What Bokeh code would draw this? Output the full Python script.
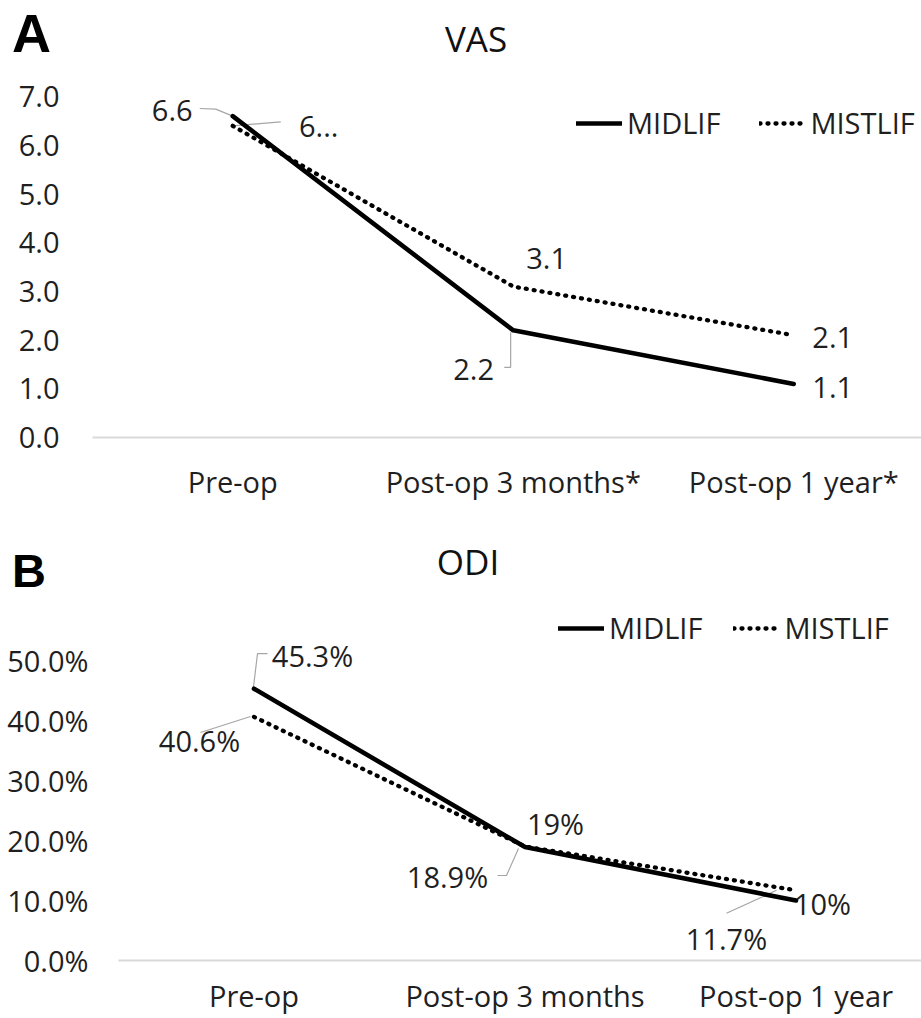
from bokeh.plotting import figure
from bokeh.models import (Range1d, FixedTicker, Legend, LegendItem, Div,
                          PrintfTickFormatter, NumeralTickFormatter)
from bokeh.layouts import column
from bokeh.embed import file_html
from bokeh.resources import INLINE
from bokeh.core.properties import value

# ---------------- data ----------------
series_names = ["MIDLIF", "MISTLIF"]
panel_letters = ["A", "B"]
panel_titles = ["VAS", "ODI"]

vas_categories = ["Pre-op", "Post-op 3 months*", "Post-op 1 year*"]
vas_midlif = [6.6, 2.2, 1.1]
vas_mistlif = [6.4, 3.1, 2.1]
vas_midlif_labels = ["6.6", "2.2", "1.1"]
vas_mistlif_labels = ["6...", "3.1", "2.1"]
vas_ticks = [0, 1, 2, 3, 4, 5, 6, 7]

odi_categories = ["Pre-op", "Post-op 3 months", "Post-op 1 year"]
odi_midlif = [45.3, 18.9, 10.0]
odi_mistlif = [40.6, 19.0, 11.7]
odi_midlif_labels = ["45.3%", "18.9%", "10%"]
odi_mistlif_labels = ["40.6%", "19%", "11.7%"]
odi_ticks = [0, 10, 20, 30, 40, 50]

FONT = "Open Sans"
FS = "29px"
TXT = "#1f1f1f"
W = 921


def header(letter, letter_size, letter_left, letter_top, title, title_center, title_top, height):
    lh = round(letter_size * 1.117)
    html = (
        f'<div style="position:relative;width:{W}px;height:{height}px;'
        f'font-family:\'Open Sans\';color:#111;">'
        f'<span style="position:absolute;left:{letter_left}px;top:{letter_top}px;'
        f'font-family:\'Liberation Sans\';font-size:{letter_size}px;line-height:{lh}px;'
        f'font-weight:bold;color:#000;">{letter}</span>'
        f'<span style="position:absolute;left:{title_center - 100}px;top:{title_top}px;width:200px;'
        f'text-align:center;font-size:35px;line-height:48px;">{title}</span></div>'
    )
    return Div(text=html, width=W, height=height, margin=(0, 0, 0, 0))


def make_panel(cats, mid, mis, mid_lab, mis_lab, ticks, fmt, height,
               b_left, b_bottom, x_end, y_end,
               mid_off, mis_off, mid_lead, mis_lead,
               legend_loc, legend_spacing, x_standoff, y_standoff):
    p = figure(width=W, height=height, output_backend="svg", toolbar_location=None,
               x_range=Range1d(0, x_end), y_range=Range1d(0, y_end),
               min_border_left=b_left, min_border_right=0,
               min_border_top=0, min_border_bottom=b_bottom, margin=(0, 0, 0, 0))
    p.outline_line_color = None
    p.grid.visible = False
    p.background_fill_color = "white"
    p.border_fill_color = "white"

    xs = [i + 0.5 for i in range(len(cats))]
    frame_w = W - b_left
    frame_h = height - b_bottom
    sx = frame_w / x_end
    sy = frame_h / y_end

    # axes
    p.xaxis.ticker = FixedTicker(ticks=xs)
    p.xaxis.major_label_overrides = {x: c for x, c in zip(xs, cats)}
    p.xaxis.axis_line_color = "#d9d9d9"
    p.xaxis.axis_line_width = 2
    p.xaxis.major_tick_line_color = None
    p.xaxis.major_tick_out = 0
    p.xaxis.major_tick_in = 0
    p.xaxis.minor_tick_line_color = None
    p.xaxis.axis_label_standoff = 0
    p.xaxis.major_label_text_line_height = 1.0
    p.xaxis.major_label_text_font = FONT
    p.xaxis.major_label_text_font_size = FS
    p.xaxis.major_label_text_color = TXT
    p.xaxis.major_label_standoff = x_standoff

    p.yaxis.ticker = FixedTicker(ticks=ticks)
    p.yaxis.formatter = fmt
    p.yaxis.axis_line_color = None
    p.yaxis.major_tick_line_color = None
    p.yaxis.major_tick_out = 0
    p.yaxis.major_tick_in = 0
    p.yaxis.minor_tick_line_color = None
    p.yaxis.major_label_text_font = FONT
    p.yaxis.major_label_text_font_size = FS
    p.yaxis.major_label_text_color = TXT
    p.yaxis.major_label_standoff = y_standoff

    # leader lines (pixel offsets converted through the scales)
    lxs, lys = [], []
    for vals, leads in ((mid, mid_lead), (mis, mis_lead)):
        for i, pts in leads.items():
            lxs.append([xs[i] + dx / sx for dx, dy in pts])
            lys.append([vals[i] - dy / sy for dx, dy in pts])
    p.multi_line(xs=lxs, ys=lys, line_color="#a6a6a6", line_width=1.2)

    r_mis = p.line(xs, mis, line_color="black", line_width=4.3,
                   line_dash="1 7", line_cap="round")
    r_mid = p.line(xs, mid, line_color="black", line_width=4.6,
                   line_join="round", line_cap="round")

    for vals, labs, offs in ((mid, mid_lab, mid_off), (mis, mis_lab, mis_off)):
        p.text(x=xs, y=vals, text=labs,
               x_offset=[o[0] for o in offs], y_offset=[o[1] for o in offs],
               text_align="center", text_baseline="middle",
               text_font=value(FONT), text_font_size=FS, text_color=TXT)

    legend = Legend(items=[LegendItem(label=series_names[0], renderers=[r_mid]),
                           LegendItem(label=series_names[1], renderers=[r_mis])],
                    orientation="horizontal", location=legend_loc,
                    glyph_width=46, glyph_height=20, label_standoff=5,
                    spacing=legend_spacing, padding=0, margin=0,
                    border_line_color=None, background_fill_alpha=0,
                    label_text_font=FONT, label_text_font_size=FS,
                    label_text_color=TXT)
    p.add_layout(legend)
    return p


# Panel A: page y 0..67 header, 67..510 figure (frame 92..921 x 67..437)
head_a = header(panel_letters[0], 54, 12, 3, panel_titles[0], 476, 15, 67)
pa = make_panel(vas_categories, vas_midlif, vas_mistlif, vas_midlif_labels, vas_mistlif_labels,
                vas_ticks, NumeralTickFormatter(format="0.0"), 443,
                92, 73, (W - 92) / 280.5, 370 / 48.7,
                mid_off=[(-60.5, -5.6), (-39.6, 39), (39, 3.6)],
                mis_off=[(86, 0.7), (33.4, -28), (39, 2.3)],
                mid_lead={0: [(-33, -7.6), (-17, -7), (0, 0)],
                          1: [(-9, 37), (-2.6, 37), (-2.6, 2)]},
                mis_lead={0: [(48, -4), (0, 0)]},
                legend_loc=(484, 295), legend_spacing=39,
                x_standoff=24, y_standoff=33)

# Panel B: page y 510..600 header, 600..1018 figure (frame 118..921 x 600..960)
head_b = header(panel_letters[1], 47, 12, 35, panel_titles[1], 468, 28, 90)
pb = make_panel(odi_categories, odi_midlif, odi_mistlif, odi_midlif_labels, odi_mistlif_labels,
                odi_ticks, PrintfTickFormatter(format="%.1f%%"), 418,
                118, 58, (W - 118) / 271, 360 / 6.0,
                mid_off=[(58.5, -33), (-77.5, 29.4), (26.5, 3)],
                mis_off=[(-54.5, 23.6), (30.5, -23), (-69.5, 48)],
                mid_lead={0: [(13.5, -35), (3.5, -35), (-0.5, -2)],
                          1: [(-27.5, 28.4), (-18.5, 28.4), (-6.5, 1.4)]},
                mis_lead={0: [(-53.5, 15.6), (-3.5, -0.4)],
                          2: [(-69.5, 23), (-19.5, 0)]},
                legend_loc=(440, 313), legend_spacing=31,
                x_standoff=15, y_standoff=30)

layout = column(column(head_a, pa, spacing=0), column(head_b, pb, spacing=0), spacing=0)
open("out.html", "w").write(file_html(layout, INLINE))
